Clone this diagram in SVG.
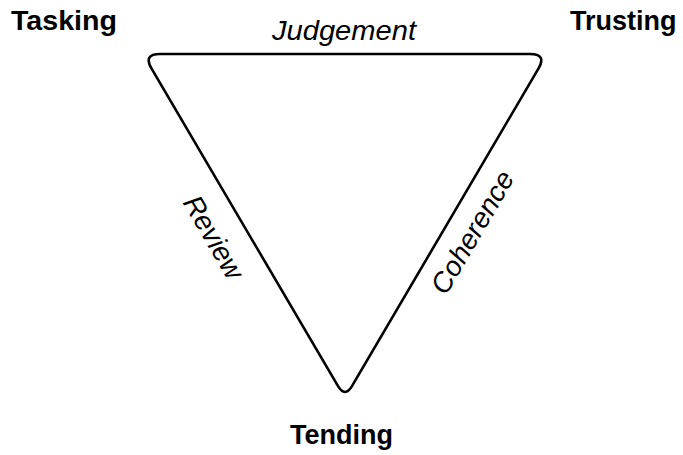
<svg xmlns="http://www.w3.org/2000/svg" width="683" height="455" viewBox="0 0 683 455">
<style>
.corner{font-family:"Liberation Sans",Arial,sans-serif;font-weight:bold;font-size:27px;fill:#000}
.edge{font-family:"Liberation Sans",Arial,sans-serif;font-style:italic;font-size:28px;fill:#000}
.tri{fill:none;stroke:#000;stroke-width:2.6;stroke-linejoin:round}
</style>
<rect width="683" height="455" fill="#fff"/>
<g id="connectors">
<path class="tri" d="M160,54 L530,54 Q547,54 538.4,68.7 L352.1,385.9 Q345,398 337.9,385.9 L151.6,68.7 Q143,54 160,54 Z"/>
</g>
<g id="node-tasking"><text class="corner" x="11" y="30" textLength="106" lengthAdjust="spacingAndGlyphs">Tasking</text></g>
<g id="node-trusting"><text class="corner" x="570" y="30">Trusting</text></g>
<g id="node-tending"><text class="corner" x="290" y="444">Tending</text></g>
<g id="label-judgement"><text class="edge" x="344" y="40" text-anchor="middle" textLength="144" lengthAdjust="spacingAndGlyphs">Judgement</text></g>
<g id="label-review"><text class="edge" transform="translate(214,237) rotate(59.7)" y="10" text-anchor="middle">Review</text></g>
<g id="label-coherence"><text class="edge" transform="translate(472,232) rotate(-59.7)" y="10" text-anchor="middle">Coherence</text></g>
</svg>
